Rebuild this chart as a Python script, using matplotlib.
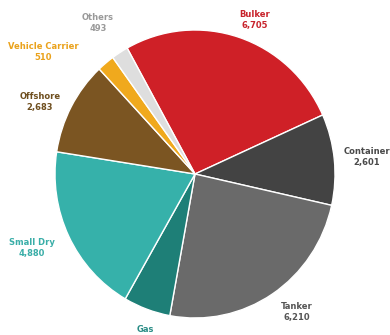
import matplotlib.pyplot as plt

# 船型分布（顺时针，从 Bulker 开始）
names = ['Bulker', 'Container', 'Tanker', 'Gas', 'Small Dry', 'Offshore', 'Vehicle Carrier', 'Others']
values = [6705, 2601, 6210, 1380, 4880, 2683, 510, 493]
value_labels = ['6,705', '2,601', '6,210', '', '4,880', '2,683', '510', '493']

colors = ['#cf2027', '#434343', '#6a6a6a', '#1e7f77', '#36b1aa', '#7b5522', '#f0a91d', '#dedede']
label_colors = ['#c8232b', '#4a4a4a', '#555555', '#2a8d86', '#3aaea8', '#6e4e1e', '#eaa21c', '#9a9a9a']
# 标签位置（像素，左上为原点）
label_pos = [(255, 20), (367, 157), (297, 312), (145, 329), (32, 248), (40, 102), (43, 52), (98, 23)]

W, H = 390, 335
fig = plt.figure(figsize=(W / 100, H / 100), dpi=100)

# 饼图略呈椭圆
cx, cy, rx, ry = 195, 174, 140, 144
ax = fig.add_axes([(cx - rx) / W, (H - cy - ry) / H, 2 * rx / W, 2 * ry / H])
ax.pie(values, colors=colors, startangle=119, counterclock=False, radius=1,
       wedgeprops=dict(edgecolor='white', linewidth=1))
ax.set_xlim(-1, 1)
ax.set_ylim(-1, 1)
ax.set_aspect('auto')
ax.axis('off')

for name, vl, c, (px, py) in zip(names, value_labels, label_colors, label_pos):
    txt = name if vl == '' else name + '\n' + vl
    fig.text(px / W, 1 - py / H, txt, ha='center', va='center', color=c,
             fontsize=6, fontweight='bold', linespacing=1.2)

plt.savefig('out.png', dpi=100)
